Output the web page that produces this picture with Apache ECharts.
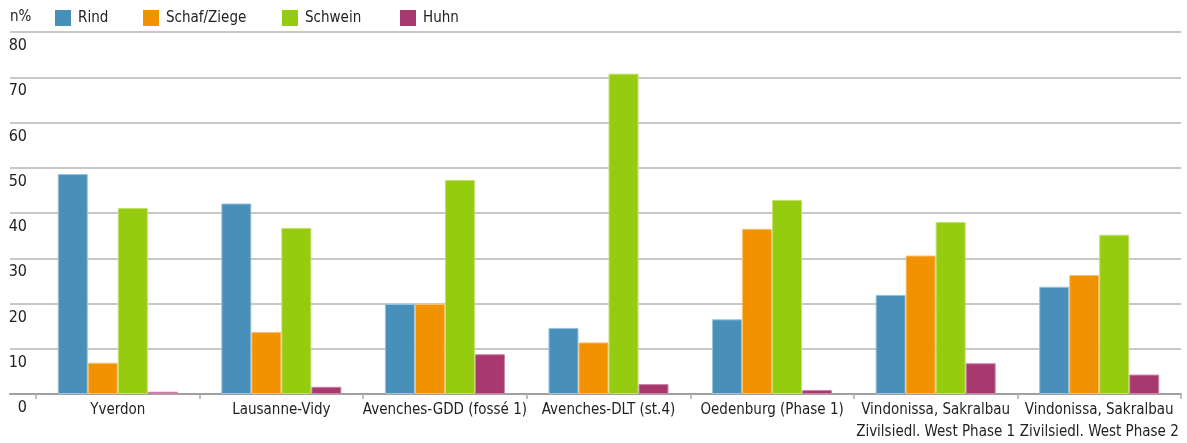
<!DOCTYPE html>
<html>
<head>
<meta charset="utf-8">
<script src="https://cdn.jsdelivr.net/npm/echarts@6/dist/echarts.min.js"></script>
<style>
html,body{margin:0;padding:0;background:#fff;}
#chart{width:1187px;height:443px;}
</style>
</head>
<body>
<div id="chart"></div>
<script>
const categories = ['Yverdon', 'Lausanne-Vidy', 'Avenches-GDD (fossé 1)', 'Avenches-DLT (st.4)', 'Oedenburg (Phase 1)', 'Vindonissa, Sakralbau\nZivilsiedl. West Phase 1', 'Vindonissa, Sakralbau\nZivilsiedl. West Phase 2'];
const rind    = [48.6, 42.1, 19.9, 14.6, 16.5, 21.9, 23.7];
const schaf   = [6.9, 13.7, 19.9, 11.4, 36.5, 30.6, 26.3];
const schwein = [41.1, 36.7, 47.3, 70.8, 42.9, 38.0, 35.2];
const huhn    = [0.5, 1.6, 8.8, 2.2, 0.9, 6.8, 4.3];
const seriesNames = ['Rind', 'Schaf/Ziege', 'Schwein', 'Huhn'];
const colors = ['#488fba', '#f39200', '#96cc10', '#a8396f'];
const borders = ['#9cc3dc', '#f8c070', '#c3e070', '#cc88a8'];
const yMin = 0, yMax = 80, yStep = 10;

const FONT = "'DejaVu Sans Condensed', sans-serif";
const chart = echarts.init(document.getElementById('chart'));
const seriesData = [rind, schaf, schwein, huhn];
const legendLeft = [50, 138, 277, 395];

chart.setOption({
  animation: false,
  textStyle: { fontFamily: FONT },
  title: { text: 'n%', left: 5, top: 5, textStyle: { fontFamily: FONT, fontSize: 15, fontWeight: 'normal', color: '#222' } },
  legend: seriesNames.map((n, i) => ({
    data: [n], left: legendLeft[i], top: 5, itemWidth: 16, itemHeight: 16, itemGap: 0,
    icon: 'rect', selectedMode: false, itemStyle: { borderWidth: 0 },
    textStyle: { fontFamily: FONT, fontSize: 15, color: '#222', padding: [0, 0, 0, 2] }
  })),
  grid: [
    { left: 10, right: 6, top: 32, bottom: 49, outerBoundsMode: 'none', containLabel: false },
    { left: 36, right: 6, top: 32, bottom: 49, outerBoundsMode: 'none', containLabel: false }
  ],
  xAxis: [
    { type: 'value', gridIndex: 0, min: 0, max: 1, show: true,
      axisLine: { show: true, lineStyle: { color: '#a0a0a0', width: 2 } },
      axisTick: { show: false }, axisLabel: { show: false }, splitLine: { show: false } },
    { type: 'category', gridIndex: 1, data: categories,
      axisLine: { show: false },
      axisTick: { show: true, length: 5, lineStyle: { color: '#aaa', width: 1.5 } },
      axisLabel: { fontFamily: FONT, fontSize: 15, color: '#222', margin: 5, lineHeight: 22, interval: 0 } }
  ],
  yAxis: [
    { type: 'value', gridIndex: 0, min: yMin, max: yMax, interval: yStep,
      axisLine: { show: false }, axisTick: { show: false },
      splitLine: { show: true, lineStyle: { color: '#b4b4b4', width: 1.5 } },
      axisLabel: { inside: true, align: 'right', verticalAlign: 'top', margin: 17, padding: [6, 0, 0, 0],
        fontFamily: FONT, fontSize: 16, color: '#222' } },
    { type: 'value', gridIndex: 1, min: yMin, max: yMax, interval: yStep, show: false }
  ],
  series: seriesNames.map((n, i) => ({
    name: n, type: 'bar', xAxisIndex: 1, yAxisIndex: 1,
    data: seriesData[i],
    barGap: '0%', barCategoryGap: '26.6%',
    itemStyle: { color: colors[i], borderColor: borders[i], borderWidth: 1 }
  }))
});
</script>
</body>
</html>
